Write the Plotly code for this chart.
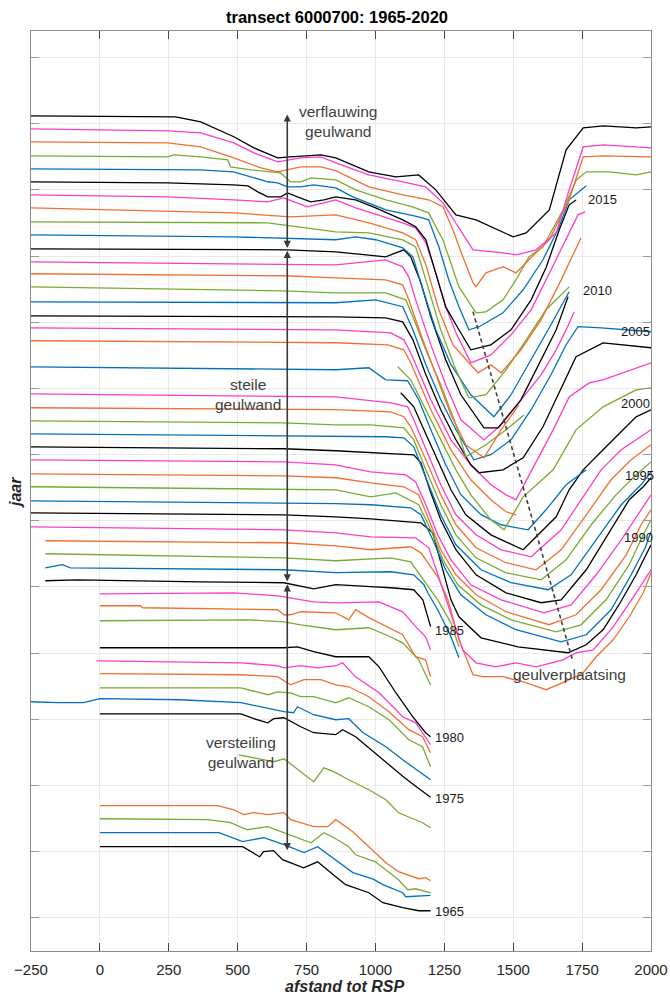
import plotly.graph_objects as go

# ---- profile data: x = afstand tot RSP (m), d = vertical offset (in 'jaar' units) relative to the survey year ----
x1965 = [0, 518, 580, 594, 630, 663, 739, 790, 856, 892, 976, 1027, 1099, 1157, 1200]
d1965 = [0.38, 0.38, -0.38, 0.0, 0.08, -0.6, -1.21, -0.76, -1.89, -2.49, -3.1, -3.85, -4.23, -4.46, -4.46]
x1966 = [0, 432, 518, 595, 668, 741, 790, 856, 918, 990, 1027, 1099, 1110, 1200]
d1966 = [0.44, 0.44, -0.24, 0.06, -0.47, -1.07, -0.62, -1.6, -2.58, -3.05, -3.49, -4.1, -4.4, -4.3]
x1967 = [0, 391, 474, 535, 609, 668, 729, 766, 813, 856, 903, 928, 1000, 1084, 1117, 1146, 1200]
d1967 = [0.49, 0.42, 0.19, -0.34, -0.11, -0.57, -1.1, -1.33, -0.57, -1.02, -1.62, -2.23, -2.76, -4.12, -4.87, -4.8, -5.1]
x1968 = [0, 427, 486, 522, 559, 609, 668, 692, 776, 827, 856, 918, 976, 1038, 1084, 1157, 1182, 1200]
d1968 = [0.48, 0.48, 0.17, -0.2, -0.05, -0.2, -0.05, -0.58, -1.11, -1.11, -0.58, -1.49, -2.62, -3.83, -4.51, -5.04, -4.96, -5.19]
x1972 = [504, 631, 668, 776, 813, 856, 903, 976, 1038, 1084, 1171, 1200]
d1972 = [0.32, -0.2, 0.02, -1.71, -0.66, -1.03, -1.56, -2.32, -3.07, -4.06, -4.81, -5.19]
x1975 = [0, 512, 559, 609, 631, 668, 729, 776, 856, 881, 928, 1013, 1099, 1146, 1200]
d1975 = [0.42, 0.42, 0.05, -0.26, 0.05, 0.12, -0.56, -1.01, -1.16, -0.79, -1.31, -2.8, -4.3, -5.05, -5.89]
x1976 = [-250, -155, -60, -10, 0, 293, 512, 668, 703, 717, 776, 856, 903, 954, 1038, 1099, 1200]
d1976 = [0.33, 0.26, 0.26, 0.48, 0.56, 0.48, 0.26, -0.42, -0.5, -0.05, -0.65, -1.03, -0.95, -2.0, -3.07, -4.05, -5.56]
x1977 = [0, 512, 609, 645, 692, 729, 776, 856, 903, 976, 1049, 1121, 1171, 1200]
d1977 = [0.38, 0.38, -0.14, 0.08, 0.0, -0.29, -0.29, -0.75, -0.37, -1.05, -2.03, -3.54, -4.07, -5.58]
x1978 = [0, 512, 645, 692, 741, 802, 856, 903, 976, 1049, 1121, 1171, 1200]
d1978 = [0.45, 0.37, 0.22, -0.39, 0.0, 0.0, -0.39, -0.54, -1.29, -2.42, -3.78, -4.31, -5.52]
x1979 = [-12, 512, 645, 668, 729, 790, 856, 881, 928, 1013, 1099, 1146, 1200]
d1979 = [0.42, 0.27, 0.05, -0.11, 0.05, -0.11, 0.05, 0.27, -0.79, -1.99, -3.81, -4.26, -5.92]
x1980 = [0, 668, 717, 776, 856, 976, 1013, 1074, 1135, 1182, 1200]
d1980 = [0.41, 0.41, 0.48, 0.11, -0.27, -0.27, -1.03, -2.99, -4.8, -6.01, -6.31]
x1982 = [0, 535, 668, 729, 856, 976, 1038, 1099, 1157, 1200]
d1982 = [0.45, 0.52, 0.37, 0.14, -0.23, -0.08, -0.61, -1.22, -2.5, -4.4]
x1983 = [0, 146, 156, 645, 668, 692, 729, 856, 903, 928, 976, 1038, 1099, 1146, 1182, 1200]
d1983 = [0.58, 0.58, 0.43, 0.28, -0.1, -0.1, 0.13, 0.05, -0.48, 0.28, -0.32, -1.0, -1.61, -3.27, -3.5, -4.78]
x1984 = [0, 486, 645, 668, 776, 856, 1013, 1099, 1146, 1182, 1200]
d1984 = [0.48, 0.56, 0.33, 0.26, -0.12, -0.2, -0.12, -0.88, -2.0, -2.76, -3.75]
x1985 = [-198, -81, 366, 668, 776, 856, 983, 1056, 1139, 1172, 1200]
d1985 = [0.47, 0.54, 0.39, 0.32, -0.14, 0.17, 0.02, -0.06, -0.21, -0.97, -3.0]
x1986 = [-198, -136, -107, 667, 856, 1056, 1139, 1176, 1190, 1226, 1274, 1303]
d1986 = [0.45, 0.68, 0.45, 0.3, 0.08, 0.15, -0.08, -0.83, -1.44, -2.72, -4.76, -6.34]
x1987 = [-198, 667, 856, 1056, 1128, 1176, 1226, 1274, 1303]
d1987 = [0.51, 0.2, -0.02, 0.2, -0.1, -1.46, -2.97, -4.71, -6.52]
x1988 = [-198, 667, 856, 983, 1128, 1165, 1226, 1263, 1303, 1354, 1390, 1463, 1536, 1619, 1681, 1754, 1801, 1863, 1921, 1972, 2000]
d1988 = [0.49, 0.34, 0.11, -0.19, 0.04, -0.42, -2.23, -3.97, -6.99, -9.63, -9.78, -9.78, -10.16, -10.76, -10.23, -9.48, -8.27, -6.99, -5.25, -3.44, -1.93]
x1989 = [-250, 667, 856, 983, 1146, 1194, 1245, 1292, 1317, 1365, 1437, 1510, 1583, 1681, 1728, 1790, 1863, 1946, 2000]
d1989 = [0.54, 0.32, 0.09, -0.21, -0.29, -1.04, -4.21, -7.24, -8.75, -9.73, -10.03, -9.73, -10.03, -9.5, -8.97, -8.75, -7.01, -4.44, -2.7]
x1990 = [-250, 667, 856, 983, 1165, 1208, 1274, 1303, 1383, 1517, 1699, 1765, 1826, 1884, 1946, 2000]
d1990 = [0.6, 0.45, 0.3, 0.15, -0.15, -0.91, -5.97, -7.25, -8.84, -9.52, -9.97, -9.37, -8.23, -6.34, -4.08, -1.81]
x1991 = [-250, 667, 856, 983, 1128, 1165, 1208, 1255, 1310, 1401, 1510, 1674, 1765, 1855, 1928, 1979, 2000]
d1991 = [0.51, 0.36, 0.29, 0.21, -0.02, -0.54, -2.43, -4.7, -6.59, -8.1, -9.23, -10.14, -9.61, -7.72, -5.08, -3.04, -1.83]
x1992 = [-250, 667, 856, 983, 1074, 1157, 1201, 1245, 1299, 1383, 1492, 1656, 1746, 1837, 1921, 1972, 2000]
d1992 = [0.57, 0.42, 0.34, -0.19, 0.11, -0.79, -2.68, -4.95, -6.84, -8.35, -9.48, -10.39, -9.86, -7.97, -5.32, -3.06, -1.93]
x1993 = [-250, 667, 856, 983, 1103, 1157, 1194, 1237, 1292, 1365, 1474, 1630, 1728, 1819, 1910, 1964, 2000]
d1993 = [0.55, 0.4, 0.25, -0.13, -0.43, -1.03, -2.92, -5.19, -7.08, -8.59, -9.87, -10.85, -10.1, -8.21, -5.57, -3.3, -2.17]
x1994 = [-250, 667, 856, 983, 1110, 1146, 1183, 1226, 1274, 1346, 1456, 1612, 1710, 1801, 1892, 1964, 2000]
d1994 = [0.6, 0.45, 0.23, -0.3, -0.53, -1.06, -2.79, -5.06, -6.95, -8.84, -9.97, -10.95, -10.35, -8.08, -5.44, -3.17, -2.04]
x1995 = [-250, 667, 856, 983, 1139, 1165, 1201, 1237, 1292, 1365, 1474, 1601, 1674, 1765, 1855, 1921, 1972, 2000]
d1995 = [0.59, 0.44, 0.29, 0.14, -0.02, -0.62, -2.89, -4.92, -7.19, -9.08, -10.44, -11.19, -10.97, -8.7, -5.68, -3.41, -2.43, -1.75]
x1996 = [-250, 667, 856, 1037, 1103, 1139, 1183, 1237, 1292, 1383, 1492, 1627, 1710, 1801, 1892, 1964, 2000]
d1996 = [0.57, 0.42, 0.42, 0.35, 0.27, -0.41, -2.75, -5.54, -7.81, -9.7, -10.68, -11.21, -10.08, -7.43, -4.79, -3.28, -2.3]
x1997 = [-250, 667, 856, 983, 1103, 1139, 1183, 1237, 1292, 1365, 1474, 1601, 1692, 1783, 1873, 1946, 2000]
d1997 = [0.55, 0.4, 0.25, 0.25, 0.02, -0.88, -3.15, -5.79, -8.06, -9.8, -10.93, -11.46, -9.95, -7.3, -5.04, -3.53, -2.55]
x1998 = [-250, 667, 856, 1056, 1103, 1128, 1183, 1237, 1292, 1365, 1474, 1583, 1674, 1765, 1855, 1928, 2000]
d1998 = [0.54, 0.39, 0.39, 0.23, -0.14, -0.9, -3.39, -6.03, -8.3, -10.04, -11.17, -11.7, -10.19, -7.55, -4.9, -3.39, -2.26]
x1999 = [-250, 667, 856, 1056, 1117, 1139, 1183, 1237, 1292, 1365, 1456, 1565, 1674, 1746, 1819, 1892, 2000]
d1999 = [0.59, 0.44, 0.36, -0.09, -0.39, -1.37, -3.64, -6.28, -8.55, -10.06, -11.19, -11.72, -9.68, -7.42, -5.15, -3.64, -2.13]
x2000 = [1092, 1139, 1176, 1226, 1274, 1328, 1419, 1536, 1583, 1656, 1703, 1754, 1826, 1899, 1946, 2000]
d2000 = [-0.33, -1.39, -3.13, -5.39, -7.66, -9.55, -11.06, -12.19, -11.21, -9.7, -7.66, -6.15, -4.64, -3.13, -2.15, -1.62]
x2001 = [-250, 667, 856, 976, 1037, 1117, 1157, 1201, 1255, 1310, 1383, 1456, 1554, 1619, 1692, 1765]
d2001 = [0.63, 0.48, 0.41, 0.56, -0.35, -0.42, -1.86, -4.12, -6.77, -9.03, -10.54, -11.3, -11.68, -10.17, -8.28, -7.15]
x2002 = [1081, 1128, 1183, 1237, 1292, 1346, 1419, 1467, 1536, 1645, 1728, 1826, 1946, 2000]
d2002 = [-0.37, -1.35, -3.62, -5.88, -8.15, -10.04, -11.93, -12.68, -10.19, -8.15, -5.13, -3.39, -2.11, -1.96]
x2003 = [-250, 667, 856, 1045, 1103, 1128, 1201, 1274, 1346, 1419, 1474, 1510]
d2003 = [0.6, 0.45, 0.45, 0.29, -0.08, -1.06, -4.61, -7.64, -9.9, -11.41, -12.32, -12.55]
x2004 = [-250, 667, 856, 1056, 1103, 1128, 1201, 1274, 1346, 1419, 1474, 1510, 1583, 1645, 1703, 1776, 1826, 2000]
d2004 = [0.57, 0.42, 0.42, 0.2, -0.33, -1.31, -4.86, -7.89, -9.77, -11.28, -12.04, -12.42, -9.62, -7.13, -4.64, -3.58, -3.35, -2.07]
x2005 = [-250, 667, 856, 1037, 1099, 1136, 1183, 1237, 1292, 1346, 1376, 1463, 1536, 1608, 1728, 1826, 2000]
d2005 = [0.48, 0.41, 0.41, 0.33, 0.03, -1.33, -3.97, -6.62, -8.88, -10.77, -11.37, -11.15, -10.24, -7.9, -2.61, -1.56, -1.93]
x2006 = [-250, 667, 856, 1001, 1099, 1136, 1183, 1237, 1292, 1357, 1419, 1492, 1565, 1637, 1692, 1735, 1819, 2000]
d2006 = [0.54, 0.47, 0.47, 0.69, 0.17, -1.57, -4.21, -6.86, -9.12, -11.39, -11.01, -9.88, -7.61, -4.97, -2.7, -1.34, -1.42, -1.72]
x2007 = [-250, 667, 856, 1037, 1110, 1136, 1183, 1237, 1292, 1328, 1401, 1474, 1539]
d2007 = [0.67, 0.37, 0.22, 0.22, -0.31, -1.59, -4.09, -6.73, -9.75, -12.17, -11.26, -10.13, -9.0]
x2008 = [-250, 667, 856, 1037, 1099, 1121, 1165, 1219, 1274, 1328, 1394, 1456, 1521]
d2008 = [0.66, 0.51, 0.35, 0.2, -0.17, -1.31, -3.95, -6.97, -9.99, -12.26, -13.24, -11.13, -9.24]
x2009 = [-250, 667, 856, 1037, 1099, 1121, 1146, 1201, 1255, 1310, 1394, 1456, 1528, 1601, 1656, 1692, 1721]
d2009 = [0.56, 0.41, 0.33, 0.71, 0.18, -0.57, -2.31, -5.71, -8.73, -11.37, -12.89, -11.75, -9.86, -7.98, -6.09, -4.58, -3.22]
x2010 = [-250, 681, 856, 1037, 1103, 1128, 1165, 1201, 1255, 1310, 1394, 1445, 1528, 1601, 1656, 1699]
d2010 = [0.54, 0.47, 0.32, -0.06, 0.47, -0.06, -2.02, -4.59, -7.84, -10.48, -12.98, -12.98, -10.86, -7.84, -5.57, -3.08]
x2011 = [-250, 485, 856, 928, 1001, 1099, 1136, 1172, 1219, 1274, 1346, 1430, 1492, 1565, 1637, 1703]
d2011 = [0.6, 0.45, 0.23, 0.45, 0.23, -0.38, -1.06, -3.55, -6.57, -9.21, -11.48, -13.14, -11.48, -8.84, -6.19, -3.7]
x2012 = [-250, 609, 856, 976, 1099, 1146, 1183, 1237, 1292, 1339, 1401, 1474, 1547, 1619, 1703]
d2012 = [0.58, 0.51, -0.17, -0.25, -0.78, -1.31, -3.8, -7.58, -10.6, -12.71, -12.48, -10.6, -8.33, -6.06, -4.33]
x2013 = [-250, 485, 692, 856, 976, 1099, 1146, 1183, 1230, 1281, 1372, 1419, 1456, 1528, 1601, 1674, 1746]
d2013 = [0.64, 0.26, -0.04, 0.11, -0.49, -1.25, -1.77, -3.66, -7.06, -9.71, -11.82, -11.22, -11.82, -10.08, -7.82, -4.8, -1.62]
x2014 = [-250, 245, 485, 609, 667, 753, 856, 928, 1099, 1146, 1183, 1219, 1255, 1292, 1346, 1419, 1492, 1565, 1637, 1692, 1735, 1761]
d2014 = [0.62, 0.47, 0.24, 0.09, 0.39, -0.29, 0.24, -0.36, -1.5, -1.87, -3.0, -5.27, -7.84, -9.8, -12.07, -11.47, -9.95, -8.07, -5.05, -2.78, -0.89, -0.66]
x2015 = [-250, 245, 485, 537, 573, 609, 656, 681, 717, 765, 813, 856, 928, 1001, 1099, 1146, 1183, 1219, 1255, 1303, 1346, 1419, 1492, 1565, 1619, 1667, 1703, 1728]
d2015 = [0.6, 0.53, 0.38, 0.3, -0.15, -0.53, -0.53, -0.23, -0.53, -0.91, -0.76, -0.53, -0.76, -1.36, -2.27, -2.79, -3.78, -6.27, -8.84, -10.57, -12.08, -11.71, -10.57, -8.31, -5.89, -3.02, -1.13, -0.76]
x2016 = [-250, 245, 365, 485, 559, 609, 645, 681, 729, 776, 856, 918, 1038, 1157, 1193, 1230, 1266, 1303, 1339, 1376, 1463, 1536, 1608, 1667, 1703, 1765]
d2016 = [0.59, 0.51, 0.51, 0.36, -0.09, -0.39, -0.47, -0.77, -0.77, -0.62, -0.85, -1.53, -2.51, -3.04, -3.26, -5.3, -7.79, -9.83, -11.57, -11.34, -10.29, -8.55, -6.28, -3.79, -1.75, -0.69]
x2017 = [-250, 246, 268, 366, 464, 474, 548, 609, 656, 692, 729, 766, 856, 928, 1038, 1135, 1193, 1245, 1303, 1365, 1401, 1463, 1510, 1557, 1608, 1681, 1729, 1765, 1849, 1947, 2000]
d2017 = [0.57, 0.49, 0.64, 0.49, 0.26, -0.26, -0.49, -0.64, -0.72, -1.4, -1.4, -1.1, -1.25, -2.0, -2.76, -3.29, -3.74, -5.78, -9.33, -11.29, -11.22, -10.31, -8.8, -7.06, -6.31, -3.51, -1.25, -0.64, -0.64, -0.87, -0.64]
x2018 = [-250, 246, 366, 486, 584, 645, 729, 802, 856, 976, 1099, 1193, 1245, 1281, 1317, 1354, 1365, 1401, 1463, 1510, 1557, 1631, 1703, 1754, 1827, 2000]
d2018 = [0.63, 0.55, 0.25, -0.58, -1.34, -1.64, -1.26, -1.26, -1.55, -2.77, -3.38, -3.75, -4.28, -6.02, -8.06, -10.02, -10.32, -9.27, -8.81, -9.27, -8.28, -6.77, -3.75, -0.51, -0.43, -0.51]
x2019 = [-250, 246, 366, 486, 559, 645, 729, 802, 856, 976, 1099, 1182, 1245, 1354, 1463, 1510, 1583, 1656, 1703, 1754, 1827, 2000]
d2019 = [0.6, 0.45, 0.3, -0.45, -1.21, -1.89, -1.59, -1.51, -1.96, -2.87, -3.4, -3.78, -4.98, -8.53, -8.76, -8.91, -8.53, -7.25, -4.0, -0.76, -0.6, -0.83]
x2020 = [-250, 275, 366, 486, 559, 645, 692, 802, 856, 976, 1074, 1157, 1219, 1292, 1365, 1500, 1547, 1631, 1692, 1754, 1827, 1947, 2000]
d2020 = [0.59, 0.51, 0.14, -0.99, -1.83, -2.58, -2.51, -2.36, -2.58, -3.64, -4.02, -3.87, -5.0, -6.89, -7.27, -8.55, -8.25, -6.51, -1.98, -0.32, -0.17, -0.32, -0.24]

SERIES = [
    (1965, x1965, d1965), (1966, x1966, d1966), (1967, x1967, d1967), (1968, x1968, d1968),
    (1972, x1972, d1972), (1975, x1975, d1975), (1976, x1976, d1976), (1977, x1977, d1977),
    (1978, x1978, d1978), (1979, x1979, d1979), (1980, x1980, d1980), (1982, x1982, d1982),
    (1983, x1983, d1983), (1984, x1984, d1984), (1985, x1985, d1985), (1986, x1986, d1986),
    (1987, x1987, d1987), (1988, x1988, d1988), (1989, x1989, d1989), (1990, x1990, d1990),
    (1991, x1991, d1991), (1992, x1992, d1992), (1993, x1993, d1993), (1994, x1994, d1994),
    (1995, x1995, d1995), (1996, x1996, d1996), (1997, x1997, d1997), (1998, x1998, d1998),
    (1999, x1999, d1999), (2000, x2000, d2000), (2001, x2001, d2001), (2002, x2002, d2002),
    (2003, x2003, d2003), (2004, x2004, d2004), (2005, x2005, d2005), (2006, x2006, d2006),
    (2007, x2007, d2007), (2008, x2008, d2008), (2009, x2009, d2009), (2010, x2010, d2010),
    (2011, x2011, d2011), (2012, x2012, d2012), (2013, x2013, d2013), (2014, x2014, d2014),
    (2015, x2015, d2015), (2016, x2016, d2016), (2017, x2017, d2017), (2018, x2018, d2018),
    (2019, x2019, d2019), (2020, x2020, d2020),
]

# colour cycle by year
COLORS = ["#000000", "#0072BD", "#77AC30", "#F07030", "#FF3CC8"]

# year labels (text, x, y)
LABEL_TEXT = ["2015", "2010", "2005", "2000", "1995", "1990", "1985", "1980", "1975", "1965"]
LABEL_X = [1764, 1746, 1884, 1884, 1899, 1895, 1208, 1208, 1208, 1208]
LABEL_Y = [2014.25, 2007.37, 2004.27, 1998.84, 1993.4, 1988.72, 1981.69, 1973.61, 1969.0, 1960.47]

# annotation arrows (x, y_from, y_to)
ARROW_X = 680
ARROW_SEGMENTS = [(2010.5, 2020.7), (1985.3, 2010.4), (1965.0, 1985.2)]
DASH_X = [1354, 1717]
DASH_Y = [2005.8, 1979.35]

NOTE_TEXT = ["verflauwing<br>geulwand", "steile<br>geulwand", "versteiling<br>geulwand", "geulverplaatsing"]
NOTE_X = [863, 536, 511, 1703]
NOTE_Y = [2020.17, 1999.52, 1972.52, 1978.37]

FONT = "Liberation Sans, Arial, Helvetica, sans-serif"

fig = go.Figure()
for year, xs, ds in SERIES:
    fig.add_trace(go.Scatter(
        x=xs, y=[year + d for d in ds], mode="lines",
        line=dict(color=COLORS[(year - 1965) % 5], width=1.3),
        hoverinfo="skip", showlegend=False))

fig.add_trace(go.Scatter(x=DASH_X, y=DASH_Y, mode="lines",
                         line=dict(color="#404040", width=1.6, dash="4px,3px"),
                         hoverinfo="skip", showlegend=False))

for y0, y1 in ARROW_SEGMENTS:
    fig.add_annotation(x=ARROW_X, y=y1, ax=ARROW_X, ay=y0, xref="x", yref="y", axref="x", ayref="y",
                       text="", showarrow=True, arrowhead=2, arrowside="end+start",
                       arrowsize=0.9, arrowwidth=1.6, arrowcolor="#3a3a3a")

for t, x, y in zip(NOTE_TEXT, NOTE_X, NOTE_Y):
    fig.add_annotation(x=x, y=y, xref="x", yref="y", text=t, showarrow=False,
                       xanchor="center", yanchor="middle", align="center",
                       font=dict(family=FONT, size=15.5, color="#404040"))

for t, x, y in zip(LABEL_TEXT, LABEL_X, LABEL_Y):
    fig.add_annotation(x=x, y=y, xref="x", yref="y", text=t, showarrow=False,
                       xanchor="left", yanchor="middle",
                       font=dict(family=FONT, size=13, color="#1a1a1a"))

# axis titles
fig.add_annotation(x=0.505, y=-0.0391, xref="paper", yref="paper", text="<b><i>afstand tot RSP</i></b>",
                   showarrow=False, xanchor="center", yanchor="middle",
                   font=dict(family=FONT, size=16, color="#262626"))
fig.add_annotation(x=-0.0258, y=0.4978, xref="paper", yref="paper", text="<b><i>jaar</i></b>",
                   showarrow=False, xanchor="center", yanchor="middle", textangle=-90,
                   font=dict(family=FONT, size=16, color="#262626"))

fig.update_layout(
    width=670, height=1003,
    margin=dict(l=31, r=19, t=31, b=52, autoexpand=False),
    paper_bgcolor="white", plot_bgcolor="white",
    title=dict(text="<b>transect 6000700: 1965-2020</b>", x=0.503, y=0.983,
               xanchor="center", yanchor="middle",
               font=dict(family=FONT, size=16.5, color="#000000")),
    xaxis=dict(range=[-250, 2000], tickvals=[-250, 0, 250, 500, 750, 1000, 1250, 1500, 1750, 2000],
               ticks="inside", ticklen=8, tickcolor="#444444", mirror="ticks", automargin=False,
               showline=True, linecolor="#8c8c8c", linewidth=1,
               showgrid=True, gridcolor="#e9e9e9", zeroline=False,
               tickfont=dict(family=FONT, size=15, color="#262626"), ticklabelstandoff=5),
    yaxis=dict(range=[1957.5, 2027.0], tick0=1965, dtick=5, showticklabels=False, automargin=False,
               ticks="inside", ticklen=8, tickcolor="#999999", mirror="ticks",
               showline=True, linecolor="#8c8c8c", linewidth=1,
               showgrid=True, gridcolor="#e9e9e9", zeroline=False),
)

# remove the default 8 px page margin so the figure sits at the window origin; hide the modebar
fig.write_html("out.html", config={"displayModeBar": False},
               post_script="document.body.style.margin='0px';")
